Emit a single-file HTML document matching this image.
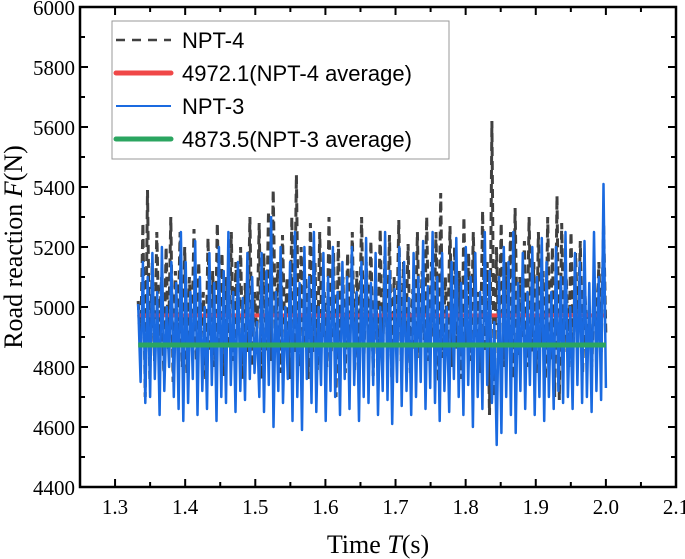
<!DOCTYPE html>
<html><head><meta charset="utf-8"><style>
body{margin:0;background:#fff;}
svg{display:block;font-family:"Liberation Serif",serif;}
</style></head><body>
<svg id="chart" width="685" height="559" viewBox="0 0 685 559" xmlns="http://www.w3.org/2000/svg">
<g id="marks"></g>
<g id="axes"></g>
<g id="legend"></g>
<text transform="translate(22,247) rotate(-90)" text-anchor="middle" font-size="26">Road reaction <tspan font-style="italic">F</tspan>(N)</text>
<text x="378" y="553" text-anchor="middle" font-size="26">Time <tspan font-style="italic">T</tspan>(s)</text>
</svg>
<script>
const xTicks=[1.3,1.4,1.5,1.6,1.7,1.8,1.9,2.0,2.1];
const xTickLabels=["1.3","1.4","1.5","1.6","1.7","1.8","1.9","2.0","2.1"];
const yTicks=[4400,4600,4800,5000,5200,5400,5600,5800,6000];
const tStart=1.333, tEnd=2.0;
const npt4=[5020,4850,5280,4700,5390,4760,5150,4820,5250,4900,5100,4780,5200,4860,5300,4750,5120,4880,5250,4800,
5200,4780,5100,4880,5260,4820,5150,4900,5050,4760,5230,4850,5120,4800,5280,4880,5180,4770,5100,4860,5250,4820,5150,4900,5200,4760,5080,4850,5300,4800,
5050,4900,5280,4760,5180,4850,5320,4820,5390,4880,5150,4780,5240,4900,5100,4760,5300,4850,5440,4800,5200,4880,5100,4760,5280,4850,5150,4790,5250,4900,5050,4800,5300,4850,5180,4700,5220,4880,5100,4780,
5180,4880,5250,4790,5120,4860,5300,4820,5150,4900,5220,4770,5080,4850,5260,4800,5170,4880,5240,4760,5100,4870,5290,4820,5150,4900,5210,4780,5060,4860,5250,4830,5120,4890,
5300,4820,5150,4900,5250,4750,5380,4830,5100,4880,5270,4800,5200,4860,5120,4760,5300,4870,5180,4820,5250,4900,5050,4780,5320,4850,5150,4640,5620,4700,5200,4860,5280,4800,5150,4880,5250,4760,5330,4840,5100,4900,5220,4800,5300,4850,5150,4780,5250,4880,5120,4760,5300,4820,5200,4700,5370,4690,5280,4850,5100,4800,5250,4870,5180,4900,5220,4780,5050,4880,4950,4800,5100,4900,5150,4850,5280,4900];
const npt3=[5010,4750,5150,4680,5100,4700,5180,4760,5050,4640,5200,4720,5000,4800,5150,4700,5080,4660,5250,4620,
5150,4680,5050,4760,5220,4640,5100,4720,5000,4660,5180,4740,5080,4620,5200,4700,5120,4680,5250,4740,5050,4650,5150,4720,5030,4690,5180,4760,
5100,4780,4950,4700,5180,4650,5120,4740,5300,4600,5050,4720,5200,4680,5000,4760,5150,4620,5250,4700,5080,4590,5200,4760,5100,4680,5250,4650,5000,4740,5180,4620,5100,4720,5200,4700,5050,4640,5150,4760,
5100,4660,5200,4740,5050,4620,5150,4700,5230,4680,5080,4740,5180,4640,5000,4720,5250,4690,5120,4610,5060,4750,5200,4670,5150,4720,5030,4640,5180,4700,5100,4750,5220,4660,5070,4730,
5250,4680,5100,4620,5180,4720,5000,4650,5150,4760,5230,4700,5080,4640,5200,4740,5100,4600,5180,4700,5050,4660,5250,4740,5120,4680,4950,4540,5100,4580,5200,4700,5150,4640,5250,4580,5080,4720,5180,4660,5050,4740,5200,4640,5100,4700,5230,4620,5150,4700,5050,4660,5200,4720,5100,4680,5250,4700,5000,4660,5180,4740,
5150,4680,5220,4700,5080,4650,5250,4720,5100,4690,5410,4730];
const avg4=[4972.1], avg3=[4873.5];
const legendLabels=["NPT-4","4972.1(NPT-4 average)","NPT-3","4873.5(NPT-3 average)"];

const L=80,R=676,T=7,B=487,X0=1.25,X1=2.1,Y0=4400,Y1=6000;
const sx=v=>L+(v-X0)/(X1-X0)*(R-L);
const sy=v=>B-(v-Y0)/(Y1-Y0)*(B-T);
const NS="http://www.w3.org/2000/svg";
function mk(tag,attrs,parent){const e=document.createElementNS(NS,tag);for(const k in attrs)e.setAttribute(k,attrs[k]);parent.appendChild(e);return e;}
const marks=document.getElementById('marks'),axes=document.getElementById('axes'),leg=document.getElementById('legend');
function pts(arr){return arr.map((v,i)=>sx(tStart+i*(tEnd-tStart)/(arr.length-1)).toFixed(1)+","+sy(v).toFixed(1)).join(" ");}
let p=mk('polyline',{points:pts(npt4),fill:'none',stroke:'#404040','stroke-width':3,'stroke-dasharray':'9,5'},marks);


p=mk('line',{x1:sx(tStart),x2:sx(tEnd),y1:sy(avg4[0]),y2:sy(avg4[0]),stroke:'#f04848','stroke-width':4},marks);


p=mk('polyline',{points:pts(npt3),fill:'none',stroke:'#1a6ae0','stroke-width':2.5,'stroke-linejoin':'round'},marks);


p=mk('line',{x1:sx(tStart),x2:sx(tEnd),y1:sy(avg3[0]),y2:sy(avg3[0]),stroke:'#2ba560','stroke-width':5},marks);



p=mk('rect',{x:L,y:T,width:R-L,height:B-T,fill:'none',stroke:'#000','stroke-width':2.5},axes);


xTicks.forEach((v,i)=>{
  const x=sx(v);
  mk('line',{x1:x,x2:x,y1:B,y2:B-8,stroke:'#000','stroke-width':2},axes);
  mk('line',{x1:x,x2:x,y1:T,y2:T+8,stroke:'#000','stroke-width':2},axes);
  const xm=sx(v-0.05);
  mk('line',{x1:xm,x2:xm,y1:B,y2:B-5,stroke:'#000','stroke-width':2},axes);
  mk('line',{x1:xm,x2:xm,y1:T,y2:T+5,stroke:'#000','stroke-width':2},axes);
  const t=mk('text',{x:x,y:B+27,'text-anchor':'middle','font-size':21},axes);t.textContent=xTickLabels[i];
  
  
});
yTicks.forEach((v,i)=>{
  const y=sy(v);
  mk('line',{x1:L,x2:L+8,y1:y,y2:y,stroke:'#000','stroke-width':2},axes);
  mk('line',{x1:R,x2:R-8,y1:y,y2:y,stroke:'#000','stroke-width':2},axes);
  if(v>Y0){const ym=sy(v-100);
  mk('line',{x1:L,x2:L+5,y1:ym,y2:ym,stroke:'#000','stroke-width':2},axes);
  mk('line',{x1:R,x2:R-5,y1:ym,y2:ym,stroke:'#000','stroke-width':2},axes);}
  const t=mk('text',{x:L-5,y:y+8,'text-anchor':'end','font-size':21},axes);t.textContent=String(v);
  
  
});
mk('rect',{x:112,y:21,width:337,height:138,fill:'#fff',stroke:'#999','stroke-width':1},leg);
const styles=[{stroke:'#404040','stroke-width':2.5,'stroke-dasharray':'9,7'},{stroke:'#f04848','stroke-width':5,'stroke-linecap':'round'},{stroke:'#1a6ae0','stroke-width':2},{stroke:'#2ba560','stroke-width':5,'stroke-linecap':'round'}];
legendLabels.forEach((s,i)=>{
  const y=40+i*33;
  const g=mk('g',{},leg);
  
  
  mk('line',Object.assign({x1:116,x2:171,y1:y,y2:y},styles[i]),g);
  const t=mk('text',{x:182,y:y+8,'font-size':22,'font-family':'Liberation Sans, sans-serif'},g);t.textContent=s;
});
</script>
</body></html>
